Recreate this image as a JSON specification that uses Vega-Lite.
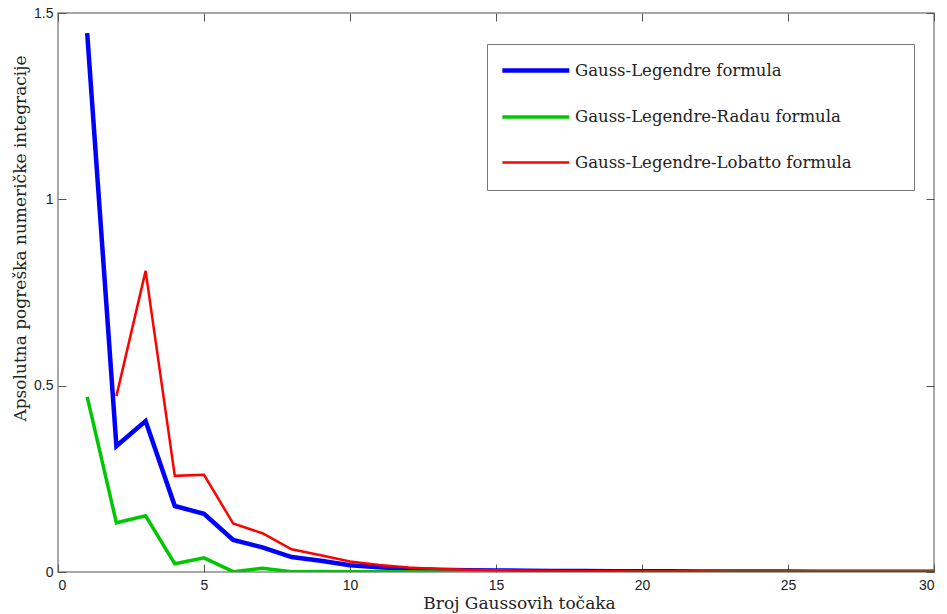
{
  "$schema": "https://vega.github.io/schema/vega-lite/v6.json",
  "width": 876,
  "height": 559,
  "autosize": {"type": "none"},
  "padding": {"left": 58, "top": 13, "right": 13, "bottom": 42},
  "background": "white",
  "config": {
    "view": {"stroke": "#8a8a8a", "strokeWidth": 1.5},
    "axis": {"grid": false, "domain": false}
  },
  "data": {
    "values": [
      {"n": 1, "s": "Gauss-Legendre formula", "err": 1.446},
      {"n": 2, "s": "Gauss-Legendre formula", "err": 0.338},
      {"n": 3, "s": "Gauss-Legendre formula", "err": 0.405},
      {"n": 4, "s": "Gauss-Legendre formula", "err": 0.177},
      {"n": 5, "s": "Gauss-Legendre formula", "err": 0.156},
      {"n": 6, "s": "Gauss-Legendre formula", "err": 0.086},
      {"n": 7, "s": "Gauss-Legendre formula", "err": 0.066},
      {"n": 8, "s": "Gauss-Legendre formula", "err": 0.040},
      {"n": 9, "s": "Gauss-Legendre formula", "err": 0.030},
      {"n": 10, "s": "Gauss-Legendre formula", "err": 0.018},
      {"n": 11, "s": "Gauss-Legendre formula", "err": 0.013},
      {"n": 12, "s": "Gauss-Legendre formula", "err": 0.008},
      {"n": 13, "s": "Gauss-Legendre formula", "err": 0.006},
      {"n": 14, "s": "Gauss-Legendre formula", "err": 0.005},
      {"n": 15, "s": "Gauss-Legendre formula", "err": 0.004},
      {"n": 16, "s": "Gauss-Legendre formula", "err": 0.0035},
      {"n": 17, "s": "Gauss-Legendre formula", "err": 0.003},
      {"n": 18, "s": "Gauss-Legendre formula", "err": 0.0025},
      {"n": 19, "s": "Gauss-Legendre formula", "err": 0.002},
      {"n": 20, "s": "Gauss-Legendre formula", "err": 0.002},
      {"n": 21, "s": "Gauss-Legendre formula", "err": 0.0017},
      {"n": 22, "s": "Gauss-Legendre formula", "err": 0.0015},
      {"n": 23, "s": "Gauss-Legendre formula", "err": 0.0013},
      {"n": 24, "s": "Gauss-Legendre formula", "err": 0.0012},
      {"n": 25, "s": "Gauss-Legendre formula", "err": 0.0011},
      {"n": 26, "s": "Gauss-Legendre formula", "err": 0.001},
      {"n": 27, "s": "Gauss-Legendre formula", "err": 0.0009},
      {"n": 28, "s": "Gauss-Legendre formula", "err": 0.0008},
      {"n": 29, "s": "Gauss-Legendre formula", "err": 0.0007},
      {"n": 30, "s": "Gauss-Legendre formula", "err": 0.0007},
      {"n": 1, "s": "Gauss-Legendre-Radau formula", "err": 0.470},
      {"n": 2, "s": "Gauss-Legendre-Radau formula", "err": 0.132},
      {"n": 3, "s": "Gauss-Legendre-Radau formula", "err": 0.151},
      {"n": 4, "s": "Gauss-Legendre-Radau formula", "err": 0.022},
      {"n": 5, "s": "Gauss-Legendre-Radau formula", "err": 0.038},
      {"n": 6, "s": "Gauss-Legendre-Radau formula", "err": 0.001},
      {"n": 7, "s": "Gauss-Legendre-Radau formula", "err": 0.010},
      {"n": 8, "s": "Gauss-Legendre-Radau formula", "err": 0.001},
      {"n": 9, "s": "Gauss-Legendre-Radau formula", "err": 0.0012},
      {"n": 10, "s": "Gauss-Legendre-Radau formula", "err": 0.0006},
      {"n": 11, "s": "Gauss-Legendre-Radau formula", "err": 0.0005},
      {"n": 12, "s": "Gauss-Legendre-Radau formula", "err": 0.0004},
      {"n": 13, "s": "Gauss-Legendre-Radau formula", "err": 0.0003},
      {"n": 14, "s": "Gauss-Legendre-Radau formula", "err": 0.0003},
      {"n": 15, "s": "Gauss-Legendre-Radau formula", "err": 0.0002},
      {"n": 16, "s": "Gauss-Legendre-Radau formula", "err": 0.0002},
      {"n": 17, "s": "Gauss-Legendre-Radau formula", "err": 0.0002},
      {"n": 18, "s": "Gauss-Legendre-Radau formula", "err": 0.0001},
      {"n": 19, "s": "Gauss-Legendre-Radau formula", "err": 0.0001},
      {"n": 20, "s": "Gauss-Legendre-Radau formula", "err": 0.0001},
      {"n": 21, "s": "Gauss-Legendre-Radau formula", "err": 0.0001},
      {"n": 22, "s": "Gauss-Legendre-Radau formula", "err": 0.0001},
      {"n": 23, "s": "Gauss-Legendre-Radau formula", "err": 0.0001},
      {"n": 24, "s": "Gauss-Legendre-Radau formula", "err": 0.0001},
      {"n": 25, "s": "Gauss-Legendre-Radau formula", "err": 0.0001},
      {"n": 26, "s": "Gauss-Legendre-Radau formula", "err": 0.0001},
      {"n": 27, "s": "Gauss-Legendre-Radau formula", "err": 0.0001},
      {"n": 28, "s": "Gauss-Legendre-Radau formula", "err": 0.0001},
      {"n": 29, "s": "Gauss-Legendre-Radau formula", "err": 0.0001},
      {"n": 30, "s": "Gauss-Legendre-Radau formula", "err": 0.0001},
      {"n": 2, "s": "Gauss-Legendre-Lobatto formula", "err": 0.472},
      {"n": 3, "s": "Gauss-Legendre-Lobatto formula", "err": 0.808},
      {"n": 4, "s": "Gauss-Legendre-Lobatto formula", "err": 0.258},
      {"n": 5, "s": "Gauss-Legendre-Lobatto formula", "err": 0.261},
      {"n": 6, "s": "Gauss-Legendre-Lobatto formula", "err": 0.130},
      {"n": 7, "s": "Gauss-Legendre-Lobatto formula", "err": 0.104},
      {"n": 8, "s": "Gauss-Legendre-Lobatto formula", "err": 0.061},
      {"n": 9, "s": "Gauss-Legendre-Lobatto formula", "err": 0.045},
      {"n": 10, "s": "Gauss-Legendre-Lobatto formula", "err": 0.028},
      {"n": 11, "s": "Gauss-Legendre-Lobatto formula", "err": 0.019},
      {"n": 12, "s": "Gauss-Legendre-Lobatto formula", "err": 0.012},
      {"n": 13, "s": "Gauss-Legendre-Lobatto formula", "err": 0.008},
      {"n": 14, "s": "Gauss-Legendre-Lobatto formula", "err": 0.006},
      {"n": 15, "s": "Gauss-Legendre-Lobatto formula", "err": 0.0045},
      {"n": 16, "s": "Gauss-Legendre-Lobatto formula", "err": 0.0035},
      {"n": 17, "s": "Gauss-Legendre-Lobatto formula", "err": 0.0028},
      {"n": 18, "s": "Gauss-Legendre-Lobatto formula", "err": 0.0022},
      {"n": 19, "s": "Gauss-Legendre-Lobatto formula", "err": 0.0018},
      {"n": 20, "s": "Gauss-Legendre-Lobatto formula", "err": 0.0015},
      {"n": 21, "s": "Gauss-Legendre-Lobatto formula", "err": 0.0013},
      {"n": 22, "s": "Gauss-Legendre-Lobatto formula", "err": 0.0011},
      {"n": 23, "s": "Gauss-Legendre-Lobatto formula", "err": 0.001},
      {"n": 24, "s": "Gauss-Legendre-Lobatto formula", "err": 0.0009},
      {"n": 25, "s": "Gauss-Legendre-Lobatto formula", "err": 0.0008},
      {"n": 26, "s": "Gauss-Legendre-Lobatto formula", "err": 0.0007},
      {"n": 27, "s": "Gauss-Legendre-Lobatto formula", "err": 0.0006},
      {"n": 28, "s": "Gauss-Legendre-Lobatto formula", "err": 0.0006},
      {"n": 29, "s": "Gauss-Legendre-Lobatto formula", "err": 0.0005},
      {"n": 30, "s": "Gauss-Legendre-Lobatto formula", "err": 0.0005}
    ]
  },
  "layer": [
    {
      "mark": {"type": "line", "strokeJoin": "miter", "clip": true},
      "encoding": {
        "x": {
          "field": "n", "type": "quantitative",
          "scale": {"domain": [0, 30], "nice": false, "zero": false},
          "axis": {
            "orient": "bottom", "values": [0, 5, 10, 15, 20, 25, 30],
            "tickSize": -8, "tickColor": "#555", "tickWidth": 1,
            "labelPadding": 14, "labelFont": "Liberation Sans", "labelFontSize": 14, "labelColor": "#222",
            "title": "Broj Gaussovih točaka", "titleFont": "DejaVu Serif", "titleFontSize": 17,
            "titleFontWeight": "normal", "titleColor": "#222", "titlePadding": 3, "titleX": 461
          }
        },
        "y": {
          "field": "err", "type": "quantitative",
          "scale": {"domain": [0, 1.5], "nice": false},
          "axis": {
            "orient": "left", "values": [0, 0.5, 1, 1.5], "format": "~g",
            "tickSize": -8, "tickColor": "#555", "tickWidth": 1,
            "labelPadding": 13, "labelFont": "Liberation Sans", "labelFontSize": 14, "labelColor": "#222",
            "title": "Apsolutna pogreška numeričke integracije", "titleFont": "DejaVu Serif", "titleFontSize": 17,
            "titleFontWeight": "normal", "titleColor": "#222", "titlePadding": 4, "titleY": 225
          }
        },
        "color": {
          "field": "s", "type": "nominal",
          "scale": {
            "domain": ["Gauss-Legendre formula", "Gauss-Legendre-Radau formula", "Gauss-Legendre-Lobatto formula"],
            "range": ["#0000ff", "#00c800", "#ff0000"]
          },
          "legend": {
            "title": "\u00a0", "titleOrient": "bottom", "titleFontSize": 2, "titlePadding": 4,
            "orient": "none", "legendX": 429, "legendY": 31,
            "strokeColor": "#777", "fillColor": "white", "padding": 13,
            "symbolType": "M-1,0H5", "symbolSize": 498,
            "labelFont": "DejaVu Serif", "labelFontSize": 16.5, "labelColor": "#222", "labelOffset": 48,
            "labelLimit": 800, "rowPadding": 24,
            "labelExpr": "datum.label + '\u2800\u2800\u2800\u2800'"
          }
        },
        "strokeWidth": {
          "field": "s", "type": "nominal",
          "scale": {
            "domain": ["Gauss-Legendre formula", "Gauss-Legendre-Radau formula", "Gauss-Legendre-Lobatto formula"],
            "range": [4.5, 2.5, 1.3]
          },
          "legend": null
        }
      }
    },
    {
      "mark": {"type": "line", "opacity": 0},
      "encoding": {
        "x": {
          "field": "n", "type": "quantitative",
          "axis": {"orient": "top", "values": [0, 5, 10, 15, 20, 25, 30], "tickSize": -8, "tickColor": "#555", "labels": false, "title": null}
        },
        "y": {
          "field": "err", "type": "quantitative",
          "axis": {"orient": "right", "values": [0, 0.5, 1, 1.5], "tickSize": -8, "tickColor": "#555", "labels": false, "title": null}
        },
        "detail": {"field": "s"}
      }
    }
  ],
  "resolve": {"axis": {"x": "independent", "y": "independent"}}
}
